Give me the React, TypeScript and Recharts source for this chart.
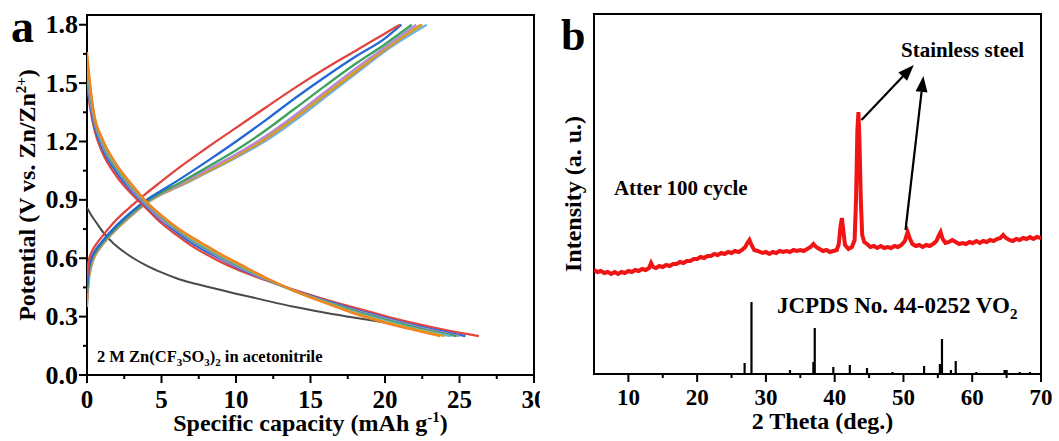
import React from 'react';
import { LineChart, Line, XAxis, YAxis, ReferenceArea, ReferenceLine, ReferenceDot, Label } from 'recharts';

const FONT = "'Liberation Serif', 'Times New Roman', serif";

// ---------- Panel a: galvanostatic charge/discharge ----------
const capTicks = [0, 2.5, 5, 7.5, 10, 12.5, 15, 17.5, 20, 22.5, 25, 27.5, 30];
const capMajor = [0, 5, 10, 15, 20, 25, 30];
const potTicks = [0, 0.15, 0.3, 0.45, 0.6, 0.75, 0.9, 1.05, 1.2, 1.35, 1.5, 1.65, 1.8];
const potMajor = [0, 0.3, 0.6, 0.9, 1.2, 1.5, 1.8];

const chargeRed: [number, number][] = [[0,0.5],[0.1,0.58],[0.3,0.63],[0.6,0.67],[1,0.71],[2,0.8],[3,0.87],[4,0.935],[5,0.995],[6,1.055],[8,1.165],[10,1.27],[12,1.375],[14,1.478],[16,1.575],[18,1.665],[20,1.755],[21,1.8]];
const chargeBlue: [number, number][] = [[0,0.45],[0.1,0.54],[0.3,0.6],[0.6,0.645],[1,0.685],[2,0.77],[3,0.84],[4,0.9],[5,0.948],[6,0.995],[8,1.095],[10,1.2],[12,1.31],[14,1.425],[16,1.533],[18,1.635],[20,1.73],[21.1,1.8]];
const chargeGreen: [number, number][] = [[0,0.42],[0.1,0.52],[0.3,0.59],[0.6,0.635],[1,0.675],[2,0.76],[3,0.83],[4,0.891],[5,0.938],[6,0.978],[8,1.065],[10,1.155],[12,1.258],[14,1.372],[16,1.487],[18,1.598],[20,1.7],[21.8,1.8]];
const chargePurple: [number, number][] = [[0,0.4],[0.1,0.5],[0.3,0.58],[0.6,0.63],[1,0.67],[2,0.755],[3,0.825],[4,0.887],[5,0.934],[6,0.972],[8,1.052],[10,1.135],[12,1.228],[14,1.338],[16,1.456],[18,1.573],[20,1.685],[22.1,1.8]];
const chargeGold: [number, number][] = [[0,0.38],[0.1,0.49],[0.3,0.57],[0.6,0.625],[1,0.668],[2,0.752],[3,0.822],[4,0.885],[5,0.931],[6,0.968],[8,1.046],[10,1.127],[12,1.218],[14,1.328],[16,1.444],[18,1.56],[20,1.676],[22.5,1.8]];
const chargeOrange: [number, number][] = [[0,0.37],[0.1,0.48],[0.3,0.565],[0.6,0.622],[1,0.666],[2,0.751],[3,0.821],[4,0.884],[5,0.93],[6,0.966],[8,1.043],[10,1.123],[12,1.213],[14,1.323],[16,1.44],[18,1.556],[20,1.672],[22.4,1.8]];
const chargeLightBlue: [number, number][] = [[0,0.35],[0.1,0.47],[0.3,0.56],[0.6,0.62],[1,0.665],[2,0.75],[3,0.82],[4,0.883],[5,0.928],[6,0.962],[8,1.038],[10,1.116],[12,1.203],[14,1.31],[16,1.428],[18,1.546],[20,1.664],[22.8,1.8]];

const dischargeRed: [number, number][] = [[0,1.5],[0.2,1.38],[0.5,1.26],[1,1.15],[2,1.02],[3,0.93],[4,0.855],[5,0.78],[6,0.72],[7,0.665],[8,0.62],[9,0.58],[10,0.545],[12,0.487],[14,0.435],[16,0.388],[18,0.345],[20,0.303],[22,0.265],[24,0.232],[26.3,0.2]];
const dischargeBlue: [number, number][] = [[0,1.52],[0.2,1.4],[0.5,1.28],[1,1.17],[2,1.04],[3,0.945],[4,0.867],[5,0.795],[6,0.735],[7,0.68],[8,0.635],[9,0.595],[10,0.555],[12,0.49],[14,0.432],[16,0.382],[18,0.336],[20,0.294],[22,0.255],[24,0.222],[25.4,0.2]];
const dischargePurple: [number, number][] = [[0,1.55],[0.2,1.42],[0.5,1.3],[1,1.185],[2,1.055],[3,0.955],[4,0.873],[5,0.8],[6,0.745],[7,0.69],[8,0.645],[9,0.6],[10,0.56],[12,0.492],[14,0.43],[16,0.379],[18,0.332],[20,0.29],[22,0.25],[25.0,0.2]];
const dischargeGreen: [number, number][] = [[0,1.58],[0.2,1.45],[0.5,1.31],[1,1.195],[2,1.06],[3,0.965],[4,0.88],[5,0.81],[6,0.75],[7,0.695],[8,0.65],[9,0.607],[10,0.567],[12,0.495],[14,0.43],[16,0.377],[18,0.328],[20,0.285],[22,0.245],[24.8,0.2]];
const dischargeLightBlue: [number, number][] = [[0,1.6],[0.2,1.47],[0.5,1.32],[1,1.205],[2,1.07],[3,0.97],[4,0.885],[5,0.815],[6,0.755],[7,0.7],[8,0.655],[9,0.612],[10,0.572],[12,0.497],[14,0.43],[16,0.374],[18,0.322],[20,0.278],[22,0.238],[24.4,0.2]];
const dischargeGold: [number, number][] = [[0,1.63],[0.2,1.49],[0.5,1.33],[1,1.215],[2,1.075],[3,0.975],[4,0.888],[5,0.818],[6,0.758],[7,0.705],[8,0.66],[9,0.616],[10,0.576],[12,0.498],[14,0.43],[16,0.372],[18,0.318],[20,0.273],[22,0.234],[24.0,0.2]];
const dischargeOrange: [number, number][] = [[0,1.66],[0.2,1.5],[0.5,1.33],[1,1.22],[2,1.08],[3,0.98],[4,0.89],[5,0.82],[6,0.76],[7,0.71],[8,0.665],[9,0.62],[10,0.58],[12,0.5],[14,0.43],[16,0.37],[18,0.314],[20,0.268],[22,0.23],[23.7,0.2]];
const dischargeFirst: [number, number][] = [[0,0.86],[0.3,0.82],[0.7,0.775],[1.2,0.722],[1.8,0.675],[2.5,0.632],[3.2,0.596],[4,0.562],[5,0.527],[6,0.497],[7,0.474],[8.5,0.446],[10,0.418],[11.6,0.39],[13.8,0.352],[16,0.32],[18,0.294],[20,0.27]];

// ---------- Panel b: XRD ----------
const thetaTicks = [10, 15, 20, 25, 30, 35, 40, 45, 50, 55, 60, 65, 70];
const thetaMajor = [10, 20, 30, 40, 50, 60, 70];

const xrdPattern: [number, number][] = [
  [5.0,104],[5.5,102],[6.0,103],[6.5,101],[7.0,102],[7.5,100],[8.0,102],[8.5,100],[9.0,102],[9.5,101],
  [10.0,103],[10.5,102],[11.0,104],[11.5,103],[12.0,105],[12.5,104],[13.0,106],[13.3,111],[13.6,107],[14.0,106],
  [14.5,108],[15.0,107],[15.5,109],[16.0,108],[16.5,110],[17.0,110],[17.5,112],[18.0,111],[18.5,113],[19.0,113],
  [19.5,115],[20.0,115],[20.5,117],[21.0,116],[21.5,118],[22.0,118],[22.5,120],[23.0,119],[23.5,121],[24.0,120],
  [24.5,122],[25.0,121],[25.5,123],[26.0,122],[26.5,124],[27.0,127],[27.3,131],[27.6,134],[27.9,129],[28.3,124],
  [28.8,123],[29.5,121],[30.0,122],[30.5,120],[31.0,122],[31.5,121],[32.0,123],[32.5,122],[33.0,123],[33.5,122],
  [34.0,124],[34.5,123],[35.0,124],[35.5,123],[36.0,125],[36.5,127],[36.9,130],[37.3,127],[37.8,125],[38.3,123],
  [38.8,124],[39.3,122],[39.8,123],[40.3,124],[40.6,130],[40.85,148],[41.05,156],[41.25,144],[41.5,129],[42.0,125],
  [42.5,127],[42.9,134],[43.1,174],[43.3,244],[43.45,262],[43.6,234],[43.8,174],[44.0,139],[44.3,132],[44.7,130],
  [45.2,127],[45.7,128],[46.2,126],[46.7,128],[47.2,126],[47.7,127],[48.2,126],[48.7,128],[49.2,127],[49.7,129],
  [50.2,133],[50.6,142],[50.9,136],[51.3,130],[51.8,128],[52.3,129],[52.8,127],[53.3,129],[53.8,128],[54.3,130],
  [54.8,133],[55.1,138],[55.4,142],[55.7,135],[56.1,131],[56.6,132],[57.1,134],[57.6,132],[58.1,130],[58.6,131],
  [59.1,130],[59.6,132],[60.1,131],[60.6,133],[61.1,131],[61.6,133],[62.1,132],[62.6,134],[63.1,133],[63.6,135],
  [64.1,136],[64.5,139],[64.9,136],[65.4,134],[65.9,133],[66.4,135],[66.9,134],[67.4,136],[67.9,135],[68.4,137],
  [68.9,135],[69.4,137],[70.0,136]
];

const refPeaks: [number, number][] = [
  [26.9,11],[27.9,72],[33.5,4],[36.9,12],[37.1,46],[39.8,7],[42.2,9],[44.7,6],[48.4,2],[53.0,8],
  [55.3,10],[55.6,35],[56.9,4],[57.6,13],[60.6,2],[64.7,4],[65.0,4],[66.9,2],[68.4,2]
];

const toPts = (arr: [number, number][]) => arr.map(([x, y]) => ({ x, y }));
const stickPts = refPeaks.flatMap(([t, h]) => [{ x: t, y: 0 }, { x: t, y: h }, { x: t, y: 0 }]);

const txt = { fontFamily: FONT, fontWeight: 700, fill: '#000' } as const;

const makeXTick = (majors: number[], labelDy: number, fontSize: number) => (p: any) => {
  const v = p.payload.value;
  const major = majors.some((m) => Math.abs(m - v) < 1e-6);
  return (
    <g>
      <line x1={p.x} y1={p.y} x2={p.x} y2={p.y + (major ? 8 : 4)} stroke="#000" strokeWidth={2} />
      {major && (
        <text x={p.x} y={p.y + labelDy} textAnchor="middle" fontSize={fontSize} {...txt}>
          {v}
        </text>
      )}
    </g>
  );
};

const PotTick = (p: any) => {
  const v = p.payload.value;
  const major = potMajor.some((m) => Math.abs(m - v) < 1e-6);
  return (
    <g>
      <line x1={p.x} y1={p.y} x2={p.x - (major ? 8 : 4)} y2={p.y} stroke="#000" strokeWidth={2} />
      {major && (
        <text x={p.x - 9} y={p.y + 8.5} textAnchor="end" fontSize={26} {...txt}>
          {v.toFixed(1)}
        </text>
      )}
    </g>
  );
};

const ArrowShape = (p: any) => {
  const { x1, y1, x2, y2 } = p;
  const dx = x2 - x1;
  const dy = y2 - y1;
  const len = Math.sqrt(dx * dx + dy * dy) || 1;
  const ux = dx / len;
  const uy = dy / len;
  const hl = 16;
  const hw = 6;
  const bx = x2 - ux * hl;
  const by = y2 - uy * hl;
  const pts = `${x2},${y2} ${bx - uy * hw},${by + ux * hw} ${bx + uy * hw},${by - ux * hw}`;
  return (
    <g>
      <line x1={x1} y1={y1} x2={bx} y2={by} stroke="#000" strokeWidth={2.2} />
      <polygon points={pts} fill="#000" />
    </g>
  );
};

const chargeSeries = [
  { d: chargeLightBlue, c: '#6cb3e3' },
  { d: chargeOrange, c: '#ee8424' },
  { d: chargeGold, c: '#d3a21c' },
  { d: chargePurple, c: '#b987d9' },
  { d: chargeGreen, c: '#3ca35c' },
  { d: chargeBlue, c: '#2368d4' },
  { d: chargeRed, c: '#e2453f' },
];
const dischargeSeries = [
  { d: dischargeFirst, c: '#4a4a4a' },
  { d: dischargeRed, c: '#e2453f' },
  { d: dischargeBlue, c: '#2368d4' },
  { d: dischargePurple, c: '#b987d9' },
  { d: dischargeGreen, c: '#3ca35c' },
  { d: dischargeLightBlue, c: '#6cb3e3' },
  { d: dischargeGold, c: '#d3a21c' },
  { d: dischargeOrange, c: '#ee8424' },
];

export default function App() {
  return (
    <div style={{ position: 'absolute', left: 0, top: 0, width: 1059, height: 441, background: '#fff' }}>
      <div style={{ position: 'absolute', left: 0, top: 0 }}>
        <LineChart width={540} height={441} margin={{ top: 15, right: 6, left: 0, bottom: 0 }}>
          <XAxis
            dataKey="x"
            type="number"
            domain={[0, 30]}
            ticks={capTicks}
            interval={0}
            allowDataOverflow
            tickSize={0}
            tickMargin={0}
            tickLine={false}
            axisLine={false}
            height={66}
            tick={makeXTick(capMajor, 33, 25)}
          >
            <Label
              content={(lp: any) => {
                const vb = lp.viewBox || { x: 87, y: 375, width: 447 };
                return (
                  <text x={vb.x + vb.width / 2} y={vb.y + 56} textAnchor="middle" fontSize={24} {...txt}>
                    Specific capacity (mAh g<tspan dy={-9} fontSize={15}>-1</tspan>
                    <tspan dy={9}>)</tspan>
                  </text>
                );
              }}
            />
          </XAxis>
          <YAxis
            type="number"
            domain={[0, 1.85]}
            ticks={potTicks}
            interval={0}
            allowDataOverflow
            tickSize={0}
            tickMargin={0}
            tickLine={false}
            axisLine={false}
            width={87}
            tick={PotTick}
          >
            <Label
              content={(lp: any) => {
                const vb = lp.viewBox || { x: 0, y: 15, width: 87, height: 360 };
                const cx = 35;
                const cy = vb.y + vb.height / 2;
                return (
                  <text x={cx} y={cy} textAnchor="middle" fontSize={24} transform={`rotate(-90, ${cx}, ${cy})`} {...txt}>
                    Potential (V vs. Zn/Zn<tspan dy={-9} fontSize={15}>2+</tspan>
                    <tspan dy={9}>)</tspan>
                  </text>
                );
              }}
            />
          </YAxis>
          {dischargeSeries.slice(0, 1).map((s, i) => (
            <Line key={'f' + i} data={toPts(s.d)} dataKey="y" type="monotone" stroke={s.c} strokeWidth={2} dot={false} isAnimationActive={false} />
          ))}
          {chargeSeries.map((s, i) => (
            <Line key={'c' + i} data={toPts(s.d)} dataKey="y" type="monotone" stroke={s.c} strokeWidth={2.3} dot={false} isAnimationActive={false} />
          ))}
          {dischargeSeries.slice(1).map((s, i) => (
            <Line key={'d' + i} data={toPts(s.d)} dataKey="y" type="monotone" stroke={s.c} strokeWidth={2.3} dot={false} isAnimationActive={false} />
          ))}
          <ReferenceArea x1={0} x2={30} y1={0} y2={1.85} fill="none" fillOpacity={0} stroke="#000" strokeWidth={2} ifOverflow="visible" />
          <ReferenceDot
            x={0.67}
            y={0.067}
            r={0}
            ifOverflow="visible"
            shape={(p: any) => (
              <text x={p.cx} y={p.cy} textAnchor="start" fontSize={16.5} {...txt} style={{ whiteSpace: 'pre' }}>
                2 M Zn(CF<tspan dy={4} fontSize={11}>3</tspan>
                <tspan dy={-4}>SO</tspan>
                <tspan dy={4} fontSize={11}>3</tspan>
                <tspan dy={-4}>)</tspan>
                <tspan dy={4} fontSize={11}>2</tspan>
                <tspan dy={-4}>{' in acetonitrile'}</tspan>
              </text>
            )}
          />
        </LineChart>
      </div>

      <div style={{ position: 'absolute', left: 540, top: 0 }}>
        <LineChart width={519} height={441} margin={{ top: 14, right: 18, left: 0, bottom: 0 }}>
          <XAxis
            dataKey="x"
            type="number"
            domain={[5, 70]}
            ticks={thetaTicks}
            interval={0}
            allowDataOverflow
            tickSize={0}
            tickMargin={0}
            tickLine={false}
            axisLine={false}
            height={67}
            tick={makeXTick(thetaMajor, 31, 23)}
          >
            <Label
              content={(lp: any) => {
                const vb = lp.viewBox || { x: 54, y: 374, width: 447 };
                return (
                  <text x={vb.x + vb.width / 2 + 5} y={vb.y + 55} textAnchor="middle" fontSize={24} {...txt}>
                    2 Theta (deg.)
                  </text>
                );
              }}
            />
          </XAxis>
          <YAxis
            type="number"
            domain={[0, 360]}
            allowDataOverflow
            tick={false}
            tickLine={false}
            axisLine={false}
            width={54}
          >
            <Label
              content={(lp: any) => {
                const vb = lp.viewBox || { x: 0, y: 14, width: 54, height: 360 };
                const cx = 41;
                const cy = vb.y + vb.height / 2;
                return (
                  <text x={cx} y={cy} textAnchor="middle" fontSize={24} transform={`rotate(-90, ${cx}, ${cy})`} {...txt}>
                    Intensity (a. u.)
                  </text>
                );
              }}
            />
          </YAxis>
          <Line data={stickPts} dataKey="y" type="linear" stroke="#000" strokeWidth={2.2} dot={false} isAnimationActive={false} />
          <Line data={toPts(xrdPattern)} dataKey="y" type="linear" stroke="#f01414" strokeWidth={4} dot={false} isAnimationActive={false} />
          <ReferenceArea x1={5} x2={70} y1={0} y2={360} fill="none" fillOpacity={0} stroke="#000" strokeWidth={2} ifOverflow="visible" />
          <ReferenceLine segment={[{ x: 43.9, y: 254 }, { x: 51.5, y: 309 }]} ifOverflow="visible" shape={ArrowShape} />
          <ReferenceLine segment={[{ x: 50.3, y: 144 }, { x: 52.9, y: 298 }]} ifOverflow="visible" shape={ArrowShape} />
          <ReferenceDot
            x={58.6}
            y={317}
            r={0}
            ifOverflow="visible"
            shape={(p: any) => (
              <text x={p.cx} y={p.cy} textAnchor="middle" fontSize={21} {...txt}>
                Stainless steel
              </text>
            )}
          />
          <ReferenceDot
            x={7.9}
            y={179}
            r={0}
            ifOverflow="visible"
            shape={(p: any) => (
              <text x={p.cx} y={p.cy} textAnchor="start" fontSize={21} {...txt}>
                Atter 100 cycle
              </text>
            )}
          />
          <ReferenceDot
            x={31.6}
            y={61}
            r={0}
            ifOverflow="visible"
            shape={(p: any) => (
              <text x={p.cx} y={p.cy} textAnchor="start" fontSize={23} {...txt}>
                JCPDS No. 44-0252 VO<tspan dy={6} fontSize={15}>2</tspan>
              </text>
            )}
          />
        </LineChart>
      </div>

      <svg width={1059} height={441} style={{ position: 'absolute', left: 0, top: 0, pointerEvents: 'none' }}>
        <text x={11} y={42} fontSize={46} {...txt}>a</text>
        <text x={561} y={50} fontSize={44} {...txt}>b</text>
      </svg>
    </div>
  );
}
